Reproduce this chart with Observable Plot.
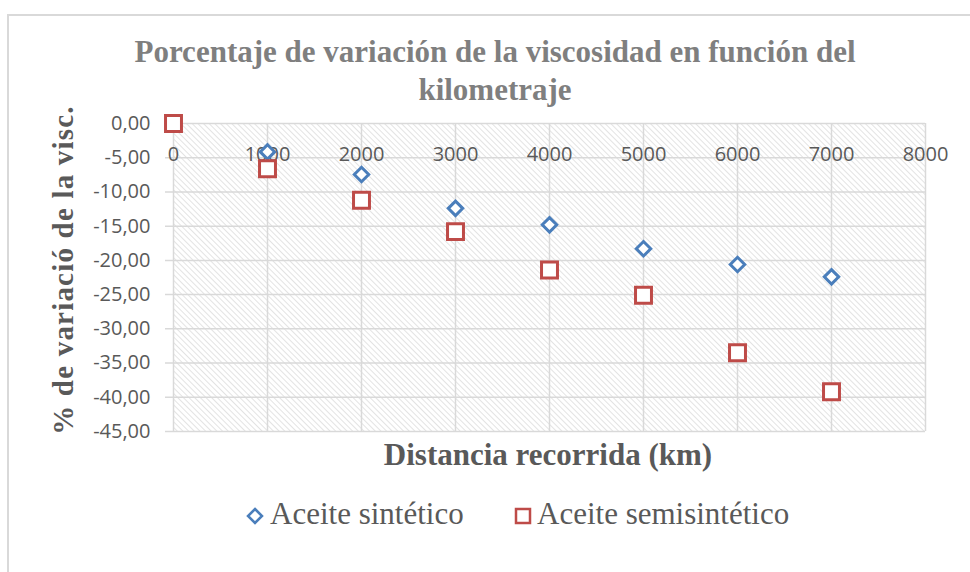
<!DOCTYPE html>
<html>
<head>
<meta charset="utf-8">
<script src="https://cdn.jsdelivr.net/npm/d3@7"></script>
<script src="https://cdn.jsdelivr.net/npm/@observablehq/plot@0.6"></script>
<style>
  body { margin: 0; background: #fff; }
  #wrap { position: relative; width: 970px; height: 572px; overflow: hidden; }
  #border { position: absolute; left: 7px; top: 14px; width: 980px; height: 600px; border: 2px solid #d9d9d9; box-sizing: border-box; }
  #chart { position: absolute; left: 0; top: 0; }
  .t { position: absolute; white-space: nowrap; font-family: "Liberation Serif", "Times New Roman", serif; }
  .title { color: #7f7f7f; font-weight: bold; font-size: 31px; left: 0; width: 990px; text-align: center; }
  .axt { color: #595959; font-weight: bold; }
  .leg { color: #595959; font-size: 31px; line-height: 36px; font-family: "Liberation Serif", "Times New Roman", serif; display: flex; align-items: center; }
</style>
</head>
<body>
<div id="wrap">
  <div id="border"></div>
  <div id="chart"></div>
  <div class="t title" style="top:33px;line-height:38px;">Porcentaje de variación de la viscosidad en función del<br>kilometraje</div>
  <div class="t axt" id="ylab" style="font-size:29px;letter-spacing:1.2px;left:63px;top:270px;transform:translate(-50%,-50%) rotate(-90deg);">% de variació de la visc.</div>
  <div class="t axt" style="font-size:31px;left:548px;top:455px;transform:translate(-50%,-50%);">Distancia recorrida (km)</div>
  <div class="t leg" style="left:245px;top:496px;">
    <svg width="20" height="20" style="margin-right:5px;margin-top:4px"><path d="M10,3 L17,10 L10,17 L3,10 Z" fill="#fff" stroke="#4a7ebb" stroke-width="2.5"/></svg><span>Aceite sintético</span>
  </div>
  <div class="t leg" style="left:513px;top:496px;">
    <svg width="20" height="20" style="margin-right:4px;margin-top:4px"><rect x="3" y="3" width="14" height="14" fill="#fff" stroke="#be4b48" stroke-width="2.5"/></svg><span>Aceite semisintético</span>
  </div>
</div>
<script>
// Data
const km = [0, 1000, 2000, 3000, 4000, 5000, 6000, 7000];
const sintetico = [0, -4.15, -7.45, -12.4, -14.8, -18.3, -20.6, -22.4];
const semisintetico = [0, -6.6, -11.2, -15.8, -21.4, -25.1, -33.5, -39.2];
const xTicks = [0, 1000, 2000, 3000, 4000, 5000, 6000, 7000, 8000];
const yTicks = [0, -5, -10, -15, -20, -25, -30, -35, -40, -45];

const dataSin = km.map((k, i) => ({km: k, v: sintetico[i]}));
const dataSemi = km.map((k, i) => ({km: k, v: semisintetico[i]}));

const fmt = d => d.toFixed(2).replace(".", ",");
const tickFont = "Open Sans, sans-serif";

const plot = Plot.plot({
  width: 970,
  height: 572,
  marginLeft: 173,
  marginRight: 45,
  marginTop: 123,
  marginBottom: 141,
  style: {background: "transparent", fontFamily: tickFont},
  x: {domain: [0, 8000], axis: null},
  y: {domain: [-45, 0]},
  marks: [
    Plot.frame({fill: "url(#hatch)", stroke: null}),
    Plot.gridX(xTicks, {stroke: "#d9d9d9", strokeOpacity: 1, strokeWidth: 1.5}),
    Plot.gridY(yTicks, {stroke: "#d9d9d9", strokeOpacity: 1, strokeWidth: 1.5, x1: -85, x2: 8000}),
    Plot.axisY(yTicks, {tickSize: 0, tickPadding: 23, tickFormat: fmt, fontSize: 20, fill: "#595959", label: null}),
    Plot.text(xTicks, {x: d => d, y: 0, dy: 31, text: d => String(d), fontSize: 20, fill: "#595959", fontFamily: tickFont}),
    Plot.dot(dataSin, {x: "km", y: "v", symbol: "diamond2", r: 6.5, stroke: "#4a7ebb", strokeWidth: 3, fill: "#fff"}),
    Plot.dot(dataSemi, {x: "km", y: "v", symbol: "square", r: 9, stroke: "#be4b48", strokeWidth: 3, fill: "#fff"})
  ]
});

// hatch pattern definition
const ns = "http://www.w3.org/2000/svg";
const defs = document.createElementNS(ns, "defs");
defs.innerHTML = '<pattern id="hatch" width="4" height="4" patternUnits="userSpaceOnUse" patternTransform="rotate(-45)"><rect width="4" height="4" fill="#ffffff"/><line x1="0" y1="0" x2="0" y2="4" stroke="#d4d4d4" stroke-width="1.3"/></pattern>';
plot.insertBefore(defs, plot.firstChild);
document.getElementById("chart").appendChild(plot);
</script>
</body>
</html>
